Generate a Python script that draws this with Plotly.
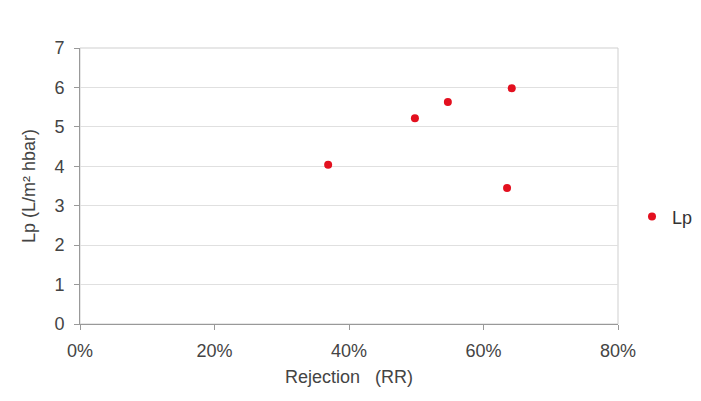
import plotly.graph_objects as go

rejection = [0.369, 0.498, 0.547, 0.642, 0.635]
lp = [4.04, 5.22, 5.63, 5.98, 3.45]
x_ticks = [0, 0.2, 0.4, 0.6, 0.8]
x_tick_labels = ["0%", "20%", "40%", "60%", "80%"]
y_ticks = [0, 1, 2, 3, 4, 5, 6, 7]

fig = go.Figure()
fig.add_trace(go.Scatter(
    x=rejection, y=lp, mode="markers", name="Lp",
    marker=dict(color="#e3101f", size=8),
))

font = "Liberation Sans, Arial, sans-serif"
fig.update_layout(
    width=693, height=393,
    margin=dict(l=72, r=83, t=40, b=77, autoexpand=False),
    paper_bgcolor="white", plot_bgcolor="white",
    font=dict(family=font, size=18, color="#444"),
    showlegend=True,
    legend=dict(x=1.026, y=0.388, xanchor="left", yanchor="middle",
                font=dict(size=18, color="#333"), itemwidth=30,
                bgcolor="rgba(0,0,0,0)"),
    xaxis=dict(range=[0, 0.8], tickvals=x_ticks, ticktext=x_tick_labels,
               showgrid=False, zeroline=False, showline=True, automargin=False,
               linecolor="#999", linewidth=1, mirror=False,
               ticks="outside", ticklen=5, tickcolor="#999", ticklabelstandoff=5,
               title=dict(text="Rejection   (RR)", font=dict(size=18), standoff=10)),
    yaxis=dict(range=[0, 7], tickvals=y_ticks, showgrid=True, automargin=False,
               gridcolor="#e0e0e0", zeroline=False, showline=True,
               linecolor="#999", linewidth=1,
               ticks="outside", ticklen=5, tickcolor="#999", ticklabelstandoff=6,
               title=dict(text="Lp (L/m² hbar)", font=dict(size=18), standoff=14)),
    shapes=[dict(type="rect", xref="paper", yref="paper", x0=0, y0=0, x1=1, y1=1,
                 line=dict(color="#cfcfcf", width=1), layer="below")],
)

fig.write_html("out.html")
